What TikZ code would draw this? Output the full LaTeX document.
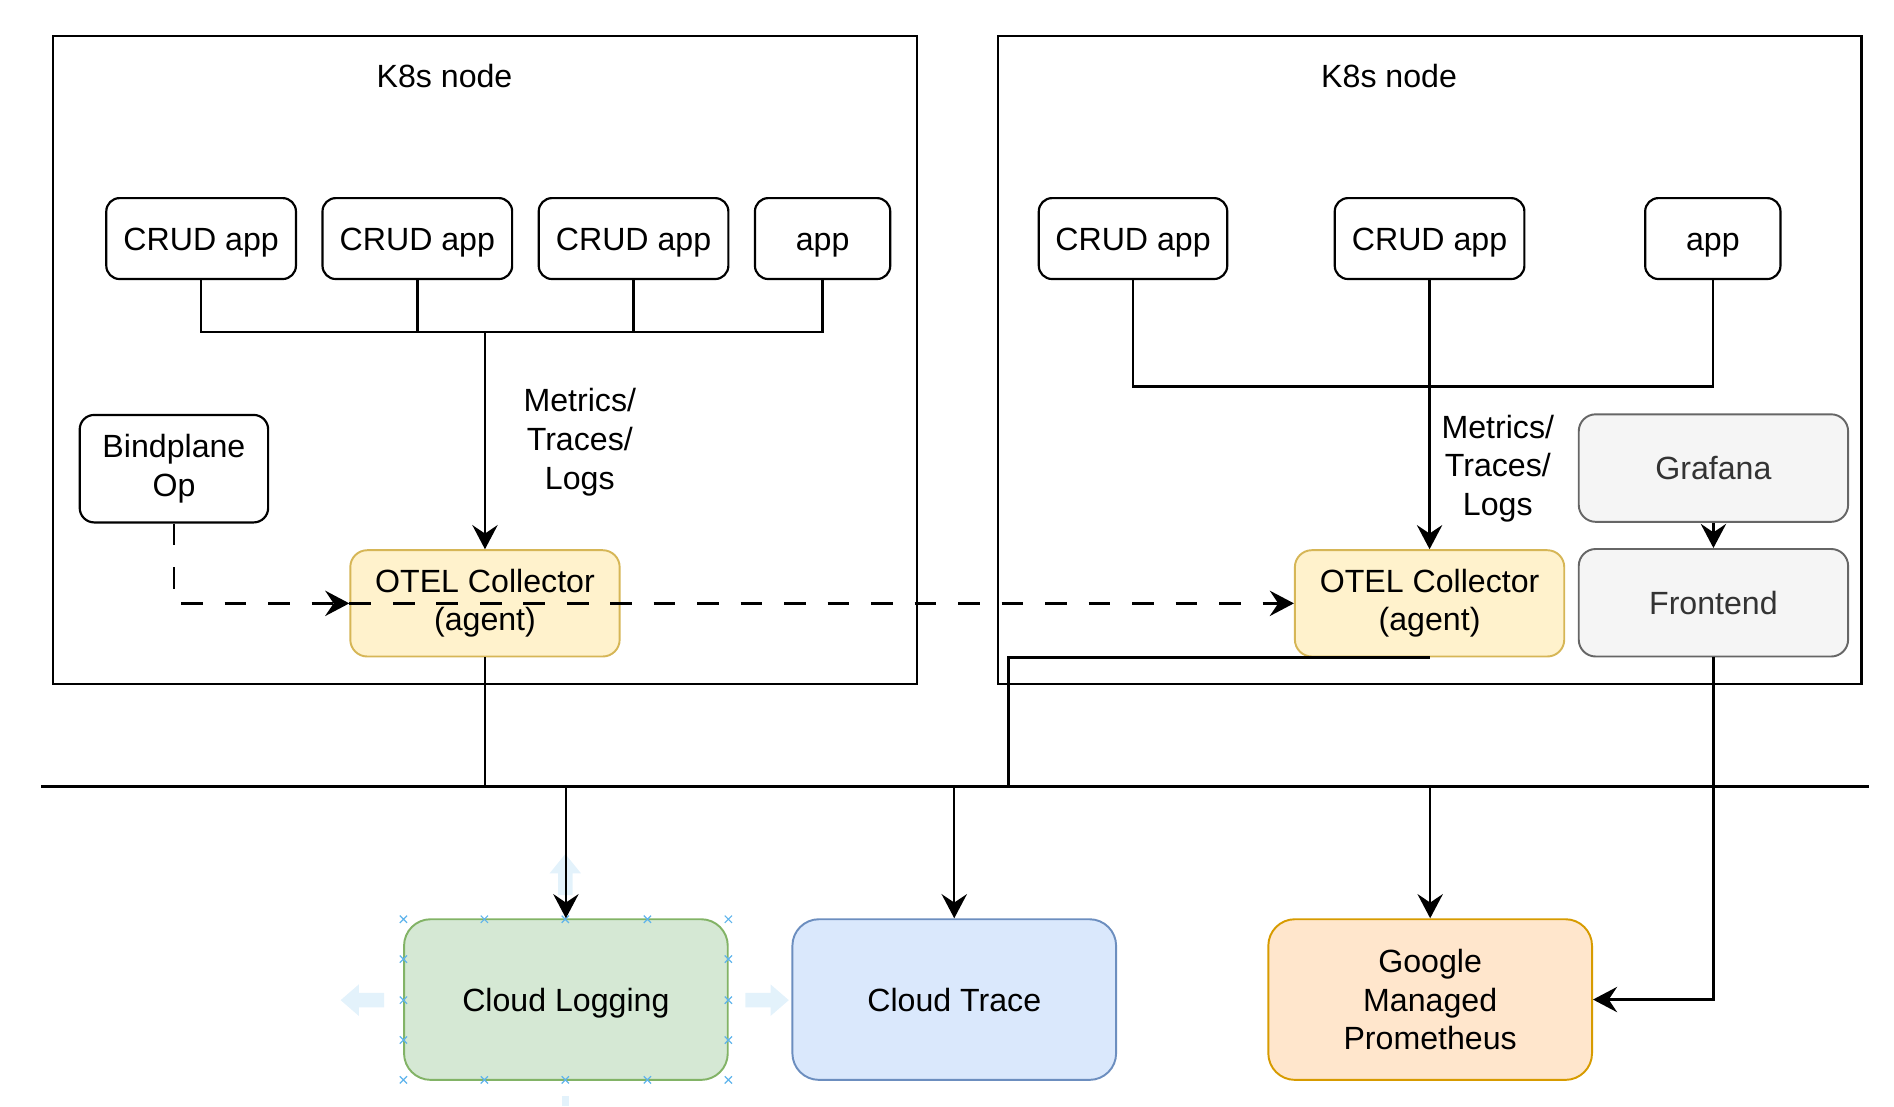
\documentclass[tikz,border=0pt]{standalone}
\usepackage{fontspec}
\setmainfont{Liberation Sans}
\usetikzlibrary{arrows.meta}
\definecolor{collfill}{HTML}{FFF2CC}
\definecolor{colldraw}{HTML}{D6B656}
\definecolor{greyfill}{HTML}{F5F5F5}
\definecolor{greydraw}{HTML}{666666}
\definecolor{greytext}{HTML}{333333}
\definecolor{logfill}{HTML}{D5E8D4}
\definecolor{logdraw}{HTML}{82B366}
\definecolor{trfill}{HTML}{DAE8FC}
\definecolor{trdraw}{HTML}{6C8EBF}
\definecolor{pmfill}{HTML}{FFE6CC}
\definecolor{pmdraw}{HTML}{D79B00}
\definecolor{selblue}{HTML}{5FB4EC}
\definecolor{selfaint}{HTML}{E3F2FB}
\tikzset{
  k8sbox/.style={draw, line width=0.95pt, inner sep=0pt},
  appbox/.style={draw, line width=0.9pt, rounded corners=5.5pt, inner sep=0pt, align=center, minimum height=33.5pt},
  oneline/.style={text height=9.5pt, text depth=0pt},
  collbox/.style={draw=colldraw, fill=collfill, line width=0.8pt, rounded corners=7pt, inner sep=0pt, align=center, minimum width=111.5pt, minimum height=44pt},
  greybox/.style={draw=greydraw, fill=greyfill, text=greytext, line width=0.8pt, rounded corners=7pt, inner sep=0pt, align=center, minimum width=111.5pt, minimum height=44.5pt, oneline},
  cloudbox/.style={line width=0.8pt, rounded corners=11pt, inner sep=0pt, align=center, minimum width=134pt, minimum height=66.5pt},
  conn/.style={line width=1pt},
  arr/.style={conn, -{Stealth[length=10pt, width=10.5pt, inset=3.5pt]}},
  dasharr/.style={arr, dash pattern=on 9pt off 9pt},
  lbl/.style={align=center, inner sep=0pt},
  selx/.style={draw=selblue, line width=0.5pt},
  faint/.style={fill=selfaint, draw=none}
}
\begin{document}
\begin{tikzpicture}[x=0.5pt, y=-0.5pt, font=\fontsize{13.3}{16}\selectfont]
\useasboundingbox (0,0) rectangle (1568,916);

% K8s node containers
\node[k8sbox, minimum width=357.5pt, minimum height=268pt] (k8sL) at (401.5,298) {};
\node[k8sbox, minimum width=357.5pt, minimum height=268pt] (k8sR) at (1183.5,298) {};
\node[lbl, oneline] (tL) at (368,63) {K8s node};
\node[lbl, oneline] (tR) at (1150,63) {K8s node};

% left apps
\node[appbox, oneline, minimum width=78.5pt] (l1) at (166.5,197.5) {CRUD app};
\node[appbox, oneline, minimum width=78.5pt] (l2) at (345.5,197.5) {CRUD app};
\node[appbox, oneline, minimum width=78.5pt] (l3) at (524.5,197.5) {CRUD app};
\node[appbox, oneline, minimum width=56pt] (l4) at (681,197.5) {app};

% right apps
\node[appbox, oneline, minimum width=78pt] (r1) at (938,197.5) {CRUD app};
\node[appbox, oneline, minimum width=78.5pt] (r2) at (1183.5,197.5) {CRUD app};
\node[appbox, oneline, minimum width=56pt] (r3) at (1418,197.5) {app};

% Bindplane
\node[appbox, minimum width=78pt, minimum height=44.5pt, rounded corners=6pt] (bind) at (144,388) {Bindplane\\Op};

% collectors
\node[collbox] (collL) at (401.5,499.5) {OTEL Collector\\(agent)};
\node[collbox] (collR) at (1183.5,499.5) {OTEL Collector\\(agent)};

% grafana / frontend
\node[greybox] (graf) at (1418.5,387.5) {Grafana};
\node[greybox] (front) at (1418.5,499) {Frontend};

% labels
\node[lbl] (mL) at (480,366) {Metrics/\\Traces/\\Logs};
\node[lbl] (mR) at (1240,388) {Metrics/\\Traces/\\Logs};

% faint selection arrows (behind)
\fill[faint] (282,828) -- (297,815) -- (297,822) -- (318,822) -- (318,834) -- (297,834) -- (297,841) -- cycle;
\fill[faint] (653,828) -- (638,815) -- (638,822) -- (617,822) -- (617,834) -- (638,834) -- (638,841) -- cycle;
\fill[faint] (468,707) -- (481,723) -- (474,723) -- (474,741) -- (462,741) -- (462,723) -- (455,723) -- cycle;
\fill[faint] (465,907) rectangle (471,916);

% bottom services
\node[cloudbox, oneline, draw=logdraw, fill=logfill] (logg) at (468.5,827.5) {Cloud Logging};
\node[cloudbox, oneline, draw=trdraw, fill=trfill] (trace) at (790,827.5) {Cloud Trace};
\node[cloudbox, draw=pmdraw, fill=pmfill] (gmp) at (1184,827.5) {Google\\Managed\\Prometheus};

% selection markers on Cloud Logging
\foreach \px/\py in {334/761,401/761,468/761,536/761,603/761,334/894,401/894,468/894,536/894,603/894,334/794,334/828,334/861,603/794,603/828,603/861}{
  \draw[selx] (\px-3,\py-3) -- (\px+3,\py+3) (\px-3,\py+3) -- (\px+3,\py-3);
}

% coordinates
\coordinate (busL) at (401.5,275);
\coordinate (busLl) at (166.5,275);
\coordinate (busLr) at (681,275);
\coordinate (busRl) at (938,320);
\coordinate (busRr) at (1418,320);
\coordinate (hl1) at (34,651);
\coordinate (hl2) at (1547,651);
\coordinate (jL) at (401.5,651);
\coordinate (jLog) at (468.5,651);
\coordinate (jTr) at (790,651);
\coordinate (rc2) at (835,651);
\coordinate (jGmp) at (1184,651);
\coordinate (fc) at (1418.5,827.5);

% left app bus
\draw[conn] (l1.south) -- (busLl) -- (busLr) -- (l4.south);
\draw[conn] (l2.south) -- (l2.south |- busL);
\draw[conn] (l3.south) -- (l3.south |- busL);
\draw[arr] (busL) -- (collL.north);

% right app bus
\draw[conn] (r1.south) -- (busRl) -- (busRr) -- (r3.south);
\draw[arr] (r2.south) -- (collR.north);

% grafana -> frontend
\draw[arr] (graf.south) -- (front.north);

% dashed control lines
\draw[dasharr] (bind.south) -- (bind.south |- collL.west) -- (collL.west);
\draw[dasharr] (collL.west) -- (collR.west);

% network line
\draw[conn] (hl1) -- (hl2);

% collector L to services
\draw[conn] (collL.south) -- (jL) -- (jTr);
\draw[arr] (jLog) -- (logg.north);
\draw[arr] (jTr) -- (trace.north);

% collector R to Prometheus
\draw[conn] (collR.south) -- (collR.south -| rc2) -- (rc2) -- (jGmp);
\draw[arr] (jGmp) -- (gmp.north);

% frontend to Prometheus
\draw[arr] (front.south) -- (fc) -- (gmp.east);
\end{tikzpicture}
\end{document}
